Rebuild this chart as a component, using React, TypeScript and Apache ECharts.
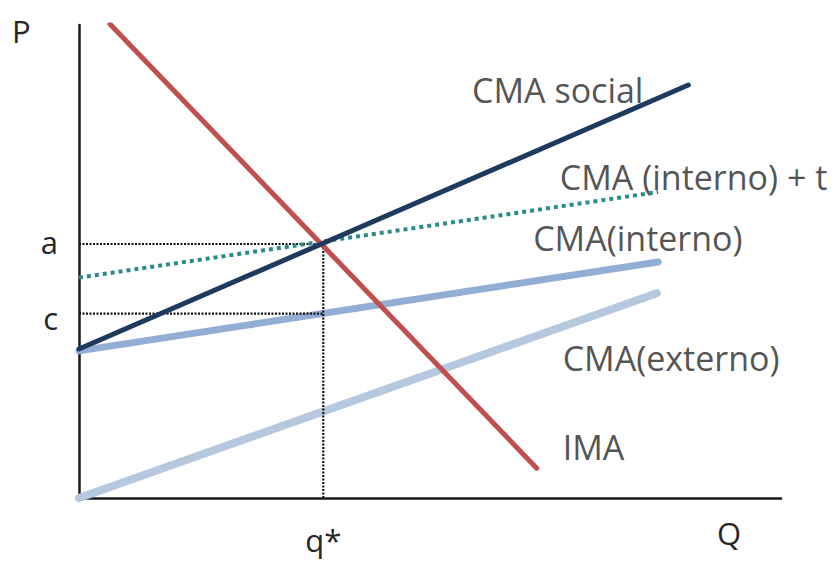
import React, { useEffect, useRef } from "react";
import * as echarts from "echarts";

// Data (x: quantity 0..100, y: price 0..100)
const imaLine: [number, number][] = [[4.4, 100.2], [65.2, 6.3]];
const cmaSocial: [number, number][] = [[0, 31.5], [86.8, 87.3]];
const cmaInternoT: [number, number][] = [[0, 46.6], [82.5, 64.7]];
const cmaInterno: [number, number][] = [[0, 31.1], [82.5, 49.9]];
const cmaExterno: [number, number][] = [[0, 0], [82.3, 43.3]];
const qStar = 34.8;
const aVal = 53.7;
const cVal = 39.0;
const curveLabels: { name: string; value: [number, number] }[] = [
  { name: "CMA social", value: [56.0, 86.3] },
  { name: "CMA (interno) + t", value: [68.5, 67.9] },
  { name: "CMA(interno)", value: [64.7, 55.0] },
  { name: "CMA(externo)", value: [68.9, 29.6] },
  { name: "IMA", value: [68.9, 10.8] },
];
const yTickLabels: Record<string, string> = { a: "a", c: "c" };
const xTickLabel = "q*";
const axisNames = { x: "Q", y: "P" };

export default function App() {
  const ref = useRef<HTMLDivElement>(null);
  useEffect(() => {
    if (!ref.current) return;
    const chart = echarts.init(ref.current, null, { renderer: "svg" });
    const font = "'Open Sans', 'Noto Sans', sans-serif";
    const textColor = "#262626";
    chart.setOption({
      animation: false,
      backgroundColor: "#ffffff",
      textStyle: { fontFamily: font },
      grid: { left: 79, right: 54, top: 25, bottom: 63, containLabel: false },
      xAxis: {
        type: "value",
        min: 0,
        max: 100,
        splitLine: { show: false },
        axisLine: { show: true, onZero: false, lineStyle: { color: "#1a1a1a", width: 2.5 } },
        axisTick: { show: false },
        axisLabel: {
          customValues: [qStar],
          formatter: () => xTickLabel,
          color: textColor,
          fontSize: 31,
          fontFamily: font,
          margin: 26,
        },
      },
      yAxis: {
        type: "value",
        min: 0,
        max: 100,
        splitLine: { show: false },
        axisLine: { show: true, onZero: false, lineStyle: { color: "#1a1a1a", width: 2.5 } },
        axisTick: { show: false },
        axisLabel: {
          customValues: [aVal, cVal],
          formatter: (v: number) =>
            Math.abs(v - aVal) < 0.01 ? "{a|" + yTickLabels.a + "}" : "{c|" + yTickLabels.c + "}",
          color: textColor,
          fontSize: 31,
          fontFamily: font,
          margin: 21,
          rich: {
            a: { fontSize: 31, fontFamily: font, color: textColor, padding: [0, 0, 4, 0] },
            c: { fontSize: 31, fontFamily: font, color: textColor, padding: [8, 0, 0, 0] },
          },
        },
      },
      graphic: [
        {
          type: "text",
          left: 12,
          top: 15,
          style: { text: axisNames.y, fill: textColor, fontSize: 31, fontFamily: font },
        },
        {
          type: "text",
          left: 717,
          top: 517,
          style: { text: axisNames.x, fill: textColor, fontSize: 31, fontFamily: font },
        },
      ],
      series: [
        {
          type: "line",
          name: "CMA(externo)",
          data: cmaExterno,
          symbol: "none",
          lineStyle: { color: "#b5c8de", width: 8, cap: "round" },
        },
        {
          type: "line",
          name: "CMA(interno)",
          data: cmaInterno,
          symbol: "none",
          lineStyle: { color: "#93aed4", width: 7, cap: "round" },
        },
        {
          type: "line",
          name: "guides",
          data: [[0, aVal], [qStar, aVal]],
          symbol: "none",
          lineStyle: { color: "#111111", width: 2.2, type: [2, 1.5] },
        },
        {
          type: "line",
          name: "guides-c",
          data: [[0, cVal], [qStar, cVal]],
          symbol: "none",
          lineStyle: { color: "#111111", width: 2.2, type: [2, 1.5] },
        },
        {
          type: "line",
          name: "guides-q",
          data: [[qStar, 0], [qStar, aVal]],
          symbol: "none",
          lineStyle: { color: "#111111", width: 2.2, type: [2, 1.5] },
        },
        {
          type: "line",
          name: "CMA (interno) + t",
          data: cmaInternoT,
          symbol: "none",
          lineStyle: { color: "#2b8a8c", width: 4, type: [4, 4] },
        },
        {
          type: "line",
          name: "IMA",
          data: imaLine,
          symbol: "none",
          lineStyle: { color: "#c0504d", width: 5, cap: "round" },
        },
        {
          type: "line",
          name: "CMA social",
          data: cmaSocial,
          symbol: "none",
          lineStyle: { color: "#1f3a5f", width: 5, cap: "round" },
        },
        {
          type: "scatter",
          name: "labels",
          data: curveLabels,
          symbolSize: 0,
          clip: false,
          silent: true,
          label: {
            show: true,
            position: "right",
            distance: 0,
            formatter: (p: any) => p.name,
            color: textColor,
            fontSize: 34,
            fontFamily: font,
          },
        },
      ],
    });
    return () => chart.dispose();
  }, []);
  return (
    <div
      ref={ref}
      style={{ position: "absolute", left: 0, top: 0, width: 835, height: 561 }}
    />
  );
}
